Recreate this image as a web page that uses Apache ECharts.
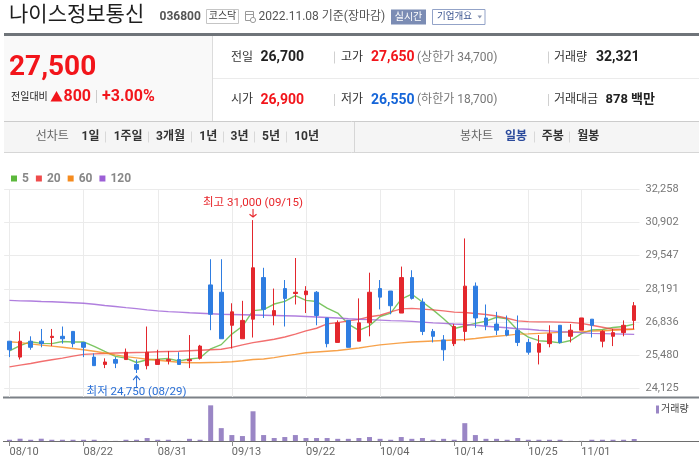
<!DOCTYPE html>
<html><head><meta charset="utf-8">
<script src="https://cdn.jsdelivr.net/npm/echarts@6/dist/echarts.min.js"></script>
<style>html,body{margin:0;padding:0;background:#fff}#c{width:699px;height:469px}</style>
</head><body><div id="c"></div>
<script>
const dates = ['08/10','08/11','08/12','08/16','08/17','08/18','08/19','08/22','08/23','08/24','08/25','08/26','08/29','08/30','08/31',
'09/01','09/02','09/05','09/06','09/07','09/08','09/13','09/14','09/15','09/16','09/19','09/20','09/21','09/22','09/23','09/26','09/27','09/28','09/29','09/30',
'10/04','10/05','10/06','10/07','10/11','10/12','10/13','10/14','10/17','10/18','10/19','10/20','10/21','10/24','10/25','10/26','10/27','10/28','10/31',
'11/01','11/02','11/03','11/04','11/07','11/08'];
const opens  = [26050,25400,26050,26050,26200,26250,26450,26000,25400,25100,25300,25300,25100,25050,25100,25250,25300,25250,25350,28350,28050,26700,26150,26950,28650,27100,28200,28000,27950,28050,27000,26000,26900,26050,26800,28200,28100,27200,28650,27650,26450,26100,25950,26450,28300,27000,26750,26500,26500,26000,25600,25950,26700,26250,26500,26950,26050,26250,26400,26900];
const closes = [25700,26050,25800,25950,26250,26150,25950,25800,25050,25200,25150,25600,24900,25600,25300,25300,25100,25300,25850,27150,26150,27250,26900,29050,27350,27300,27800,28050,28100,27100,25950,26800,25800,26800,28050,27850,27500,28650,27800,26450,26250,25700,26650,28300,27000,26700,26500,26300,26000,25600,25950,26350,26000,26500,27000,26700,26450,26400,26700,27500];
const lows   = [25400,25300,25700,25800,25850,25950,25800,25400,25050,24950,24950,25300,24750,24900,25100,25100,25100,24950,25300,26500,26150,25750,26150,26200,27000,26700,26650,27550,27200,26700,25800,26000,25800,26050,26250,27350,27150,27200,27750,26300,26000,25250,25850,26050,26600,26500,26300,26250,25850,25500,25100,25800,25950,26000,26500,26200,25800,25850,26250,26550];
const highs  = [26050,26450,26250,26550,26550,26650,26450,26000,25550,25350,25400,25750,25300,26650,25700,25650,25600,26300,25900,29400,29400,27600,27700,31000,29050,28200,28550,29450,28300,28100,27000,26900,26900,27800,28850,28550,28100,29100,28950,27800,26550,26300,26750,30250,28450,27550,27250,27100,27100,26150,26300,26700,26700,26750,27000,26950,26500,26550,26900,27650];
const volumes = [20000,37000,20000,37000,20000,20000,20000,20000,20000,2000,2000,20000,20000,48000,20000,20000,2000,35000,20000,576000,208000,96000,80000,480000,96000,48000,64000,96000,48000,48000,48000,35000,35000,48000,64000,35000,20000,64000,35000,48000,20000,35000,20000,288000,96000,35000,35000,20000,48000,20000,20000,20000,20000,2000,2000,20000,20000,20000,20000,32321];
const ma5   = [25650,25870,26030,25960,25950,26040,26020,26020,25840,25630,25430,25360,25180,25290,25310,25340,25240,25320,25370,25740,25910,26340,26660,27300,27340,27570,27680,27910,27720,27670,27400,27200,26750,26490,26680,27060,27200,27770,27970,27650,27330,26970,26570,26670,26780,26870,27030,26960,26500,26220,26070,26040,25980,26080,26360,26510,26530,26610,26650,26750];
const ma20  = [25000,25070,25140,25220,25290,25360,25440,25510,25530,25550,25570,25580,25590,25600,25620,25630,25640,25660,25680,25700,25720,25800,25900,25990,26060,26130,26220,26340,26470,26580,26760,26810,26880,26940,27050,27110,27250,27370,27390,27360,27330,27290,27240,27220,27180,27140,27080,26990,26880,26850,26840,26840,26830,26820,26780,26700,26620,26540,26540,26540];
const ma60  = [26030,25990,25940,25890,25850,25800,25750,25700,25640,25570,25490,25420,25370,25310,25270,25230,25190,25170,25170,25180,25190,25210,25250,25300,25320,25380,25450,25510,25580,25610,25640,25670,25720,25770,25840,25900,25940,25980,26020,26040,26060,26080,26100,26120,26160,26210,26250,26290,26340,26350,26370,26390,26410,26430,26440,26460,26480,26500,26520,26540];
const ma120 = [27720,27700,27690,27670,27660,27640,27620,27600,27560,27510,27470,27420,27380,27330,27290,27260,27240,27210,27190,27170,27150,27140,27130,27120,27110,27100,27090,27080,27060,27040,27020,27000,26970,26950,26930,26910,26890,26880,26860,26830,26800,26780,26750,26730,26700,26660,26630,26600,26560,26540,26500,26470,26440,26420,26400,26370,26360,26350,26340,26330];
const priceMin = 24125, priceMax = 32258, priceStep = 1355.5;
const labelIdx = [0,7,14,21,28,35,42,49,54];
const maNames = ['5','20','60','120'];
const maColors = ['#5cb83c','#ef4b4b','#f58b1e','#9c5fd6'];

const FONT = 'Roboto, "Noto Sans CJK KR", "Noto Sans", sans-serif';
const UP = '#e3272d', DOWN = '#2f7de1';
const fmt = n => String(n).replace(/\B(?=(\d{3})+(?!\d))/g, ',');
const isLabel = i => labelIdx.indexOf(i) >= 0;

const candles = dates.map((d, i) => [opens[i], closes[i], lows[i], highs[i]]);
const hiVal = Math.max(...highs), hiIdx = highs.indexOf(hiVal);
const loVal = Math.min(...lows), loIdx = lows.indexOf(loVal);

// ---------- header graphics ----------
const G = [];
function txt(x, y, text, font, fill, align) {
  G.push({type:'text', x:x, y:y, silent:true, style:{text:text, font:font, fill:fill,
    align:align||'left', verticalAlign:'middle', textAlign:align||'left', textVerticalAlign:'middle'}});
}
function rect(x, y, w, h, fill, stroke) {
  G.push({type:'rect', silent:true, shape:{x:x, y:y, width:w, height:h},
    style:{fill:fill||'none', stroke:stroke||null, lineWidth:1}});
}
function line(x1, y1, x2, y2, stroke, w) {
  G.push({type:'line', silent:true, shape:{x1:x1, y1:y1, x2:x2, y2:y2}, style:{stroke:stroke, lineWidth:w||1}});
}
// title row
txt(9, 15.5, '나이스정보통신', '21px ' + FONT, '#1e1e1e');
txt(159.5, 17, '036800', 'bold 12px ' + FONT, '#555');
rect(206.5, 9.5, 32, 14, '#fff', '#c5c5c5');
txt(222.5, 16.8, '코스닥', '10px ' + FONT, '#444', 'center');
rect(245.5, 11.5, 8, 9, '#fff', '#9a9a9a');
line(245.5, 14.5, 253.5, 14.5, '#9a9a9a');
G.push({type:'circle', silent:true, shape:{cx:253, cy:20, r:2.6}, style:{fill:'#fff', stroke:'#9a9a9a', lineWidth:1}});
txt(258.5, 16.8, '2022.11.08 기준(장마감)', '12px ' + FONT, '#555');
rect(391, 9.5, 35, 15, '#7b8cb4', null);
txt(408.5, 17, '실시간', '10px ' + FONT, '#fff', 'center');
rect(432.5, 9.5, 52.5, 15, '#fff', '#93a3c8');
txt(437, 17, '기업개요', '9.5px ' + FONT, '#3c5590');
G.push({type:'polygon', silent:true, shape:{points:[[477.5,15.5],[482,15.5],[479.75,18.5]]}, style:{fill:'#8b97b3'}});
// frame
rect(4, 33, 695, 3, '#6f7479', null);
rect(4, 36, 208.5, 85, '#f9f9f9', null);
line(212.5, 36, 212.5, 121, '#dcdcdc');
line(213, 78.5, 699, 78.5, '#ebebeb');
line(4, 121.5, 699, 121.5, '#cccccc');
rect(4, 122, 695, 30, '#f5f5f5', null);
line(4, 152.5, 699, 152.5, '#d6d6d6');
line(354.5, 122, 354.5, 152, '#d6d6d6');
// price block
const RED = '#f2151b', BLUE = '#1565d8';
txt(9, 68, '27,500', 'bold 28px ' + FONT, RED);
txt(11, 97, '전일대비', '10px ' + FONT, '#222');
G.push({type:'polygon', silent:true, shape:{points:[[50.5,101.5],[56.5,91],[62.5,101.5]]}, style:{fill:RED}});
txt(63.5, 96.5, '800', 'bold 16px ' + FONT, RED);
line(96.5, 90, 96.5, 103, '#cccccc');
txt(102, 96.5, '+3.00%', 'bold 16px ' + FONT, RED);
// info rows
const rowY = [57.5, 100];
const infoLabels = [['전일','고가','거래량'],['시가','저가','거래대금']];
const infoValues = [['26,700','27,650','32,321'],['26,900','26,550','878 백만']];
const infoColors = [['#222',RED,'#222'],[RED,BLUE,'#222']];
const infoLimits = ['(상한가 34,700)','(하한가 18,700)'];
const infoX = [[231,260.5],[341,371],[554,596]];
for (let r = 0; r < 2; r++) {
  const y = rowY[r];
  for (let c = 0; c < 3; c++) {
    txt(infoX[c][0], y, infoLabels[r][c], '12px ' + FONT, '#333');
    const vx = (r === 1 && c === 2) ? 605.5 : infoX[c][1];
    txt(vx, y, infoValues[r][c], (r === 1 && c === 2 ? 'bold 13px ' : 'bold 14px ') + FONT, infoColors[r][c]);
  }
  txt(417, y, infoLimits[r], '12px ' + FONT, '#777');
  line(334.5, y - 6, 334.5, y + 6, '#d0d0d0');
  line(548.5, y - 6, 548.5, y + 6, '#d0d0d0');
}
// toolbar
const toolItems = [['선차트',35.7,'#666',''],['1일',81.6,'#333','bold '],['1주일',113.7,'#333','bold '],['3개월',156,'#333','bold '],
  ['1년',199.3,'#333','bold '],['3년',230.5,'#333','bold '],['5년',262,'#333','bold '],['10년',294.2,'#333','bold '],
  ['봉차트',460,'#666',''],['일봉',505,'#2b4a9c','bold '],['주봉',541.7,'#333','bold '],['월봉',577.3,'#333','bold ']];
toolItems.forEach(t => txt(t[1], 137, t[0], t[3] + '12px ' + FONT, t[2]));
[105.5,148.5,191.5,223.5,254.5,286.5,534.5,569.5].forEach(x => line(x, 131.5, x, 142.5, '#d8d8d8'));
// chart frame lines
line(3, 397.5, 699, 397.5, '#7c8187', 2);
line(3, 441.5, 699, 441.5, '#6e6e6e', 1);

// ---------- chart ----------
const chart = echarts.init(document.getElementById('c'), null, {renderer:'canvas'});
const maData = [ma5, ma20, ma60, ma120];
const series = maNames.map((n, k) => ({
  name:n, type:'line', xAxisIndex:0, yAxisIndex:0, data:maData[k], symbol:'none', showSymbol:false,
  silent:true, z:1, itemStyle:{color:maColors[k]},
  lineStyle:{color:maColors[k], width:1.4, opacity:0.8}
}));
series.push({
  name:'candle', type:'candlestick', xAxisIndex:0, yAxisIndex:0, data:candles, barWidth:4, z:3, silent:true,
  itemStyle:{color:UP, color0:DOWN, borderColor:UP, borderColor0:DOWN, borderWidth:1},
  markPoint:{silent:true, animation:false, data:[
    {coord:[dates[hiIdx], hiVal], symbol:'path://M4,0 L4,11 M0.5,7 L4,11 L7.5,7', symbolSize:[7,8], symbolOffset:[0,-7],
     itemStyle:{color:'rgba(0,0,0,0)', borderColor:'#e8262b', borderWidth:1.2},
     label:{show:true, position:'top', distance:0, formatter:'최고 ' + fmt(hiVal) + ' (' + dates[hiIdx] + ')', color:'#e8262b', fontSize:11.5, fontFamily:FONT}},
    {coord:[dates[loIdx], loVal], symbol:'path://M4,11 L4,0 M0.5,4 L4,0 L7.5,4', symbolSize:[7,11], symbolOffset:[0,8.5],
     itemStyle:{color:'rgba(0,0,0,0)', borderColor:'#2a6fd6', borderWidth:1.2},
     label:{show:true, position:'bottom', distance:-1, formatter:'최저 ' + fmt(loVal) + ' (' + dates[loIdx] + ')', color:'#2a6fd6', fontSize:11.5, fontFamily:FONT}}
  ]}
});
series.push({name:'거래량', type:'bar', xAxisIndex:1, yAxisIndex:1, data:volumes, barWidth:5, silent:true, itemStyle:{color:'#9a86c5'}});

chart.setOption({
  animation:false,
  backgroundColor:'#fff',
  graphic:{elements:G},
  legend:[
    {data:maNames, left:11, top:172.5, padding:0, icon:'rect', itemWidth:6, itemHeight:6, itemGap:7,
     textStyle:{fontSize:12, fontWeight:'bold', color:'#888', fontFamily:FONT}},
    {data:['거래량'], left:656, top:404.5, padding:0, icon:'rect', itemWidth:3, itemHeight:8,
     textStyle:{fontSize:10, color:'#444', fontFamily:FONT, padding:[0,0,0,-3]}}
  ],
  grid:[
    {left:4.2, width:635.3, top:189.3, height:199, outerBoundsMode:'none'},
    {left:4.2, width:635.3, top:402, height:39, outerBoundsMode:'none'},
    {left:9.5, width:624.8, top:189.3, height:207.7, outerBoundsMode:'none'}
  ],
  xAxis:[
    {gridIndex:0, type:'category', data:dates, boundaryGap:true, axisLine:{show:false}, axisTick:{show:false}, axisLabel:{show:false}, splitLine:{show:false}},
    {gridIndex:1, type:'category', data:dates, boundaryGap:true, axisLine:{show:false},
     axisTick:{show:true, alignWithLabel:true, interval:isLabel, length:5, lineStyle:{color:'#8c8c8c'}},
     axisLabel:{show:true, interval:isLabel, align:'left', margin:6, color:'#666', fontSize:11, fontFamily:FONT}, splitLine:{show:false}},
    {gridIndex:2, type:'category', data:dates, boundaryGap:false, axisLine:{show:false}, axisTick:{show:false}, axisLabel:{show:false},
     splitLine:{show:true, interval:isLabel, lineStyle:{color:'#ebebeb'}}}
  ],
  yAxis:[
    {gridIndex:0, type:'value', position:'right', min:priceMin, max:priceMax, interval:priceStep,
     axisLine:{show:false}, axisTick:{show:false},
     axisLabel:{margin:6, color:'#777', fontSize:11, fontFamily:FONT, formatter:v => fmt(Math.floor(v + 1e-6))},
     splitLine:{show:true, lineStyle:{color:'#ebebeb'}}},
    {gridIndex:1, type:'value', min:0, max:630000, show:false},
    {gridIndex:2, type:'value', min:0, max:1, show:false}
  ],
  series:series
});
</script></body></html>
